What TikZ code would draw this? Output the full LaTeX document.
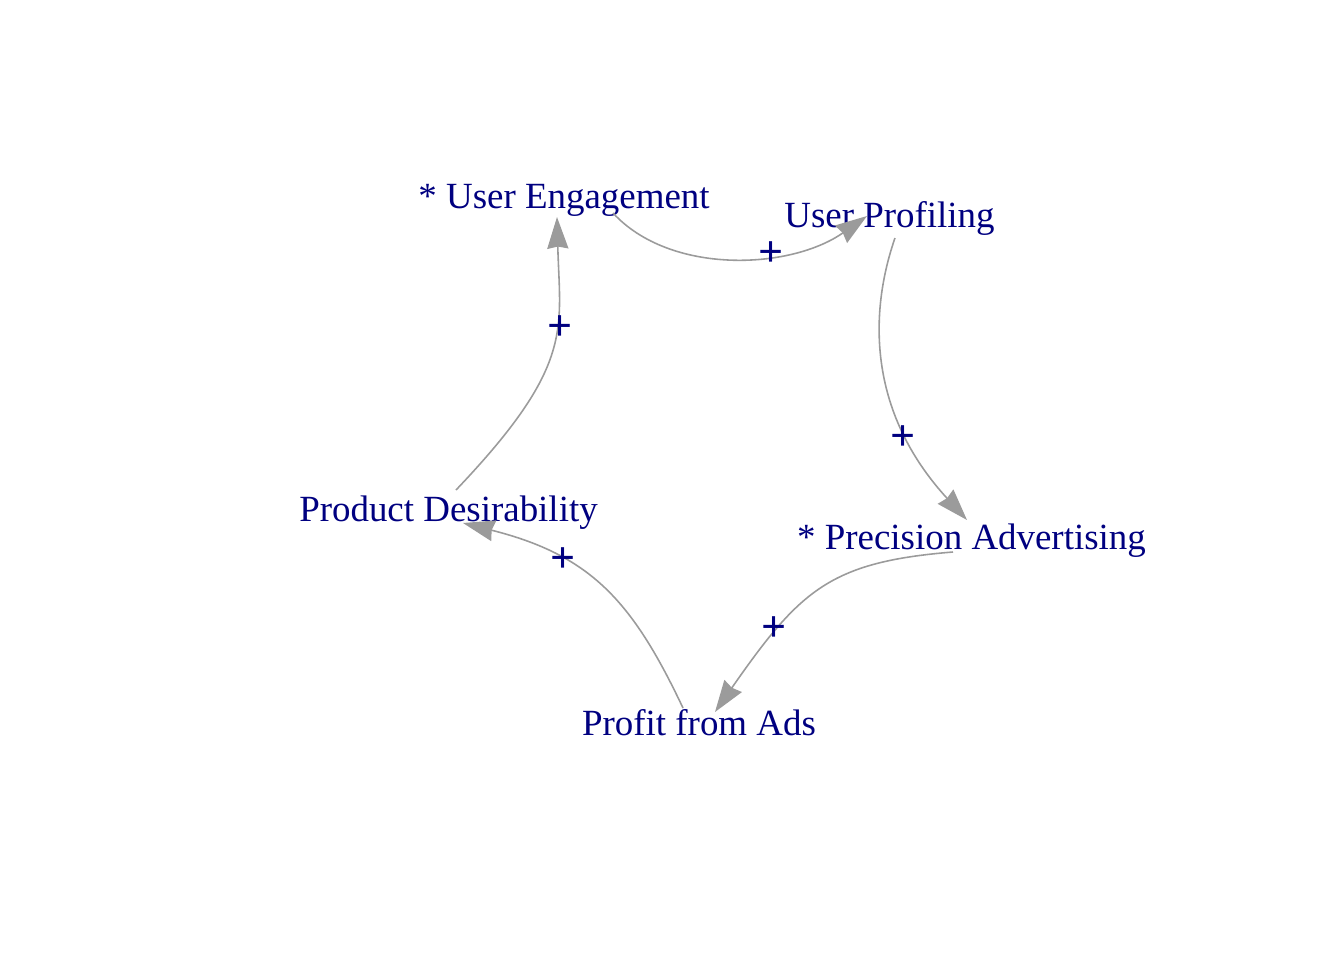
\documentclass[tikz,border=0pt]{standalone}
\usepackage{fontspec}
\setmainfont{Liberation Serif}
\usetikzlibrary{arrows.meta}
\definecolor{labnavy}{RGB}{0,0,128}
\definecolor{edgegray}{RGB}{155,155,155}
\begin{document}
\begin{tikzpicture}[x=0.01cm,y=-0.01cm,
    var/.style={text=labnavy,inner sep=0pt,anchor=base,font=\fontsize{10.5}{12}\selectfont},
    sign/.style={text=labnavy,inner sep=0pt,yshift=-1.2pt,font=\fontsize{12.5}{14}\selectfont\bfseries},
    link/.style={draw=edgegray,line width=0.45pt,-{Stealth[length=9pt,width=6pt,inset=0.6pt]}}]
      \useasboundingbox (0,0) rectangle (1344,960);
      % variables
      \node[var] (ue) at (564,208) {* User Engagement};
      \node[var] (up) at (889.5,227) {User Profiling};
      \node[var] (pa) at (971.5,549) {* Precision Advertising};
      \node[var] (pr) at (699,735) {Profit from Ads};
      \node[var] (pd) at (448.5,521) {Product Desirability};
      % edge ends
      \coordinate (ue1) at (613,213);
      \coordinate (up0) at (867,216);
      \coordinate (up1) at (895,238);
      \coordinate (pa0) at (967,520);
      \coordinate (pa1) at (953,552);
      \coordinate (pr0) at (715,712);
      \coordinate (pr1) at (683,708);
      \coordinate (pd0) at (463,523);
      \coordinate (pd1) at (456,490);
      \coordinate (ue0) at (557,217);
      \draw[link] (ue1) .. controls (670,275) and (790,270) .. (up0);
      \draw[link] (up1) .. controls (870,310) and (866,410) .. (pa0);
      \draw[link] (pa1) .. controls (830,562) and (800,590) .. (pr0);
      \draw[link] (pr1) .. controls (632,600) and (590,555) .. (pd0);
      \draw[link] (pd1) .. controls (575,365) and (560,330) .. (ue0);
      % polarities
      \node[sign] (s1) at (771,250) {+};
      \node[sign] (s2) at (903,434) {+};
      \node[sign] (s3) at (774,625) {+};
      \node[sign] (s4) at (563,556) {+};
      \node[sign] (s5) at (560,324) {+};
    \end{tikzpicture}
\end{document}
